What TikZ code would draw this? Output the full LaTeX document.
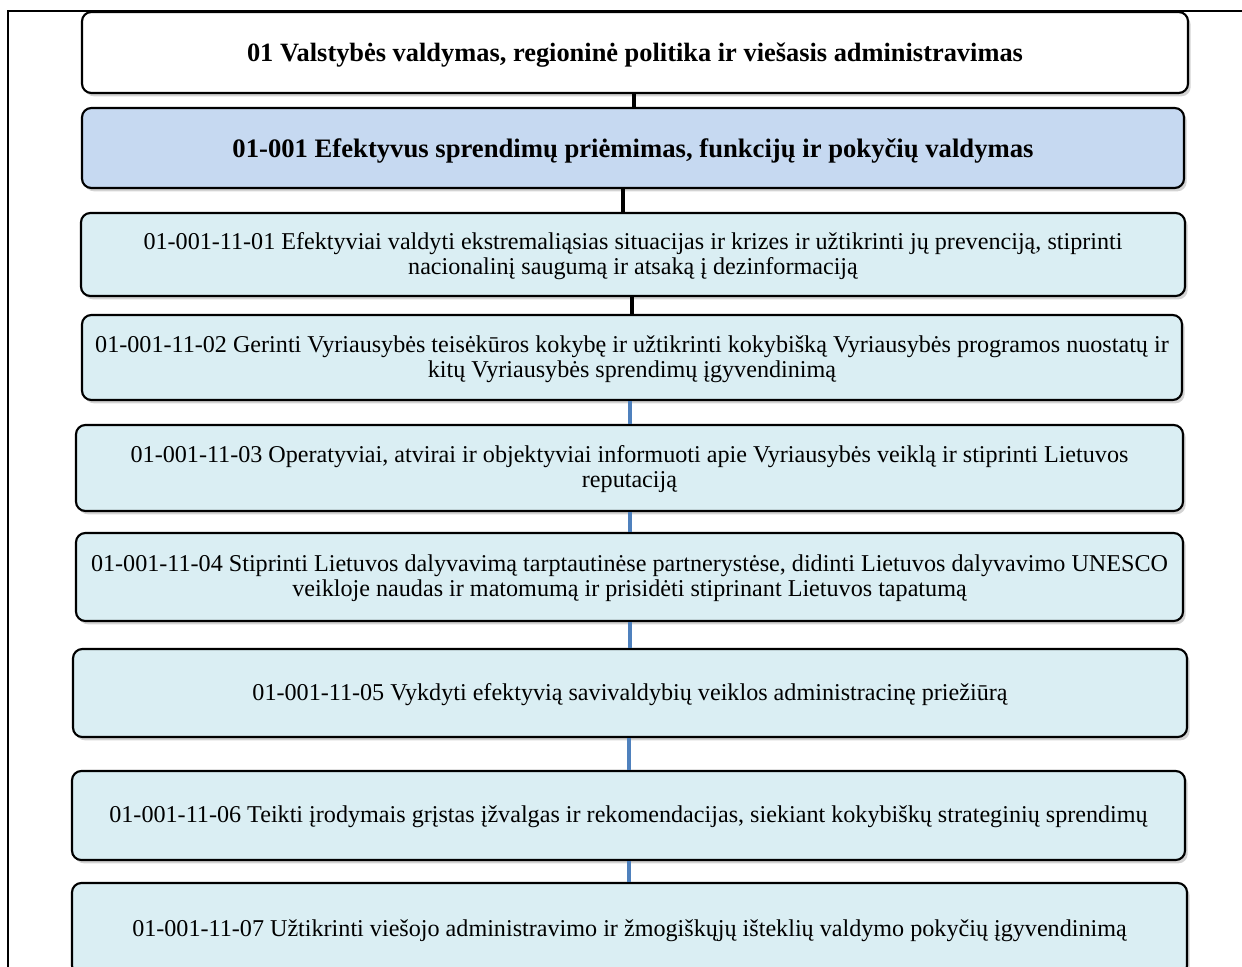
\documentclass[tikz,border=0pt]{standalone}
\usepackage{fontspec}
\setmainfont{Liberation Serif}
\usetikzlibrary{shadows}
\definecolor{boxblue}{HTML}{C6D9F1}
\definecolor{boxcyan}{HTML}{DAEEF3}
\definecolor{linkblue}{HTML}{4F81BD}
\newcommand\lowtext[2][1.5pt]{\raisebox{-#1}[\height][\depth]{\begin{tabular}{@{}c@{}}#2\end{tabular}}}
\tikzset{
  card/.style={draw=black, line width=1.6pt, rounded corners=7pt, align=center,
    inner sep=0pt, font=\fontsize{18.1}{18.75}\selectfont,
    drop shadow={opacity=0.35, shadow xshift=2pt, shadow yshift=-2.5pt}},
  linkblack/.style={draw=black, line width=3pt},
  linkb/.style={draw=linkblue, line width=3pt},
}
\begin{document}
\begin{tikzpicture}[x=0.75pt,y=-0.75pt]
\useasboundingbox (0,0) rectangle (1242,967);
\draw[line width=0.9pt] (8,975) -- (8,11) -- (1250,11);
% coordinates for connector x positions
\coordinate (k1) at (634,0);
\coordinate (k2) at (623,0);
\coordinate (k3) at (632,0);
\coordinate (k4) at (630,0);
\coordinate (k5) at (629,0);
\node[card, fill=white, minimum width=1106*0.75pt, minimum height=81*0.75pt,
  font=\fontsize{19.8}{22}\selectfont\bfseries] (b0) at (635,52.5)
  {\lowtext[2.6pt]{01 Valstybės valdymas, regioninė politika ir viešasis administravimas}};
\node[card, fill=boxblue, minimum width=1102*0.75pt, minimum height=80*0.75pt,
  font=\fontsize{20}{22}\selectfont\bfseries] (b1) at (633,148)
  {\lowtext[2.6pt]{01-001 Efektyvus sprendimų priėmimas, funkcijų ir pokyčių valdymas}};
\node[card, fill=boxcyan, minimum width=1104*0.75pt, minimum height=83*0.75pt] (b2) at (633,254.5)
  {\lowtext{01-001-11-01 Efektyviai valdyti ekstremaliąsias situacijas ir krizes ir užtikrinti jų prevenciją, stiprinti\\nacionalinį saugumą ir atsaką į dezinformaciją}};
\node[card, fill=boxcyan, minimum width=1100*0.75pt, minimum height=85*0.75pt] (b3) at (632,357.5)
  {\lowtext{01-001-11-02 Gerinti Vyriausybės teisėkūros kokybę ir užtikrinti kokybišką Vyriausybės programos nuostatų ir\\kitų Vyriausybės sprendimų įgyvendinimą}};
\node[card, fill=boxcyan, minimum width=1107*0.75pt, minimum height=86*0.75pt] (b4) at (629.5,468)
  {\lowtext{01-001-11-03 Operatyviai, atvirai ir objektyviai informuoti apie Vyriausybės veiklą ir stiprinti Lietuvos\\reputaciją}};
\node[card, fill=boxcyan, minimum width=1107*0.75pt, minimum height=88*0.75pt] (b5) at (629.5,577)
  {\lowtext{01-001-11-04 Stiprinti Lietuvos dalyvavimą tarptautinėse partnerystėse, didinti Lietuvos dalyvavimo UNESCO\\veikloje naudas ir matomumą ir prisidėti stiprinant Lietuvos tapatumą}};
\node[card, fill=boxcyan, minimum width=1114*0.75pt, minimum height=88*0.75pt] (b6) at (630,693)
  {\lowtext{01-001-11-05 Vykdyti efektyvią savivaldybių veiklos administracinę priežiūrą}};
\node[card, fill=boxcyan, minimum width=1113*0.75pt, minimum height=89*0.75pt] (b7) at (628.5,815.5)
  {\lowtext{01-001-11-06 Teikti įrodymais grįstas įžvalgas ir rekomendacijas, siekiant kokybiškų strateginių sprendimų}};
\node[card, fill=boxcyan, minimum width=1115*0.75pt, minimum height=92*0.75pt] (b8) at (629.5,929)
  {\lowtext{01-001-11-07 Užtikrinti viešojo administravimo ir žmogiškųjų išteklių valdymo pokyčių įgyvendinimą}};
% connectors
\draw[linkblack] (b0.south -| k1) -- (b1.north -| k1);
\draw[linkblack] (b1.south -| k2) -- (b2.north -| k2);
\draw[linkblack] (b2.south -| k3) -- (b3.north -| k3);
\draw[linkb] (b3.south -| k4) -- (b4.north -| k4);
\draw[linkb] (b4.south -| k4) -- (b5.north -| k4);
\draw[linkb] (b5.south -| k4) -- (b6.north -| k4);
\draw[linkb] (b6.south -| k5) -- (b7.north -| k5);
\draw[linkb] (b7.south -| k5) -- (b8.north -| k5);
\end{tikzpicture}
\end{document}
